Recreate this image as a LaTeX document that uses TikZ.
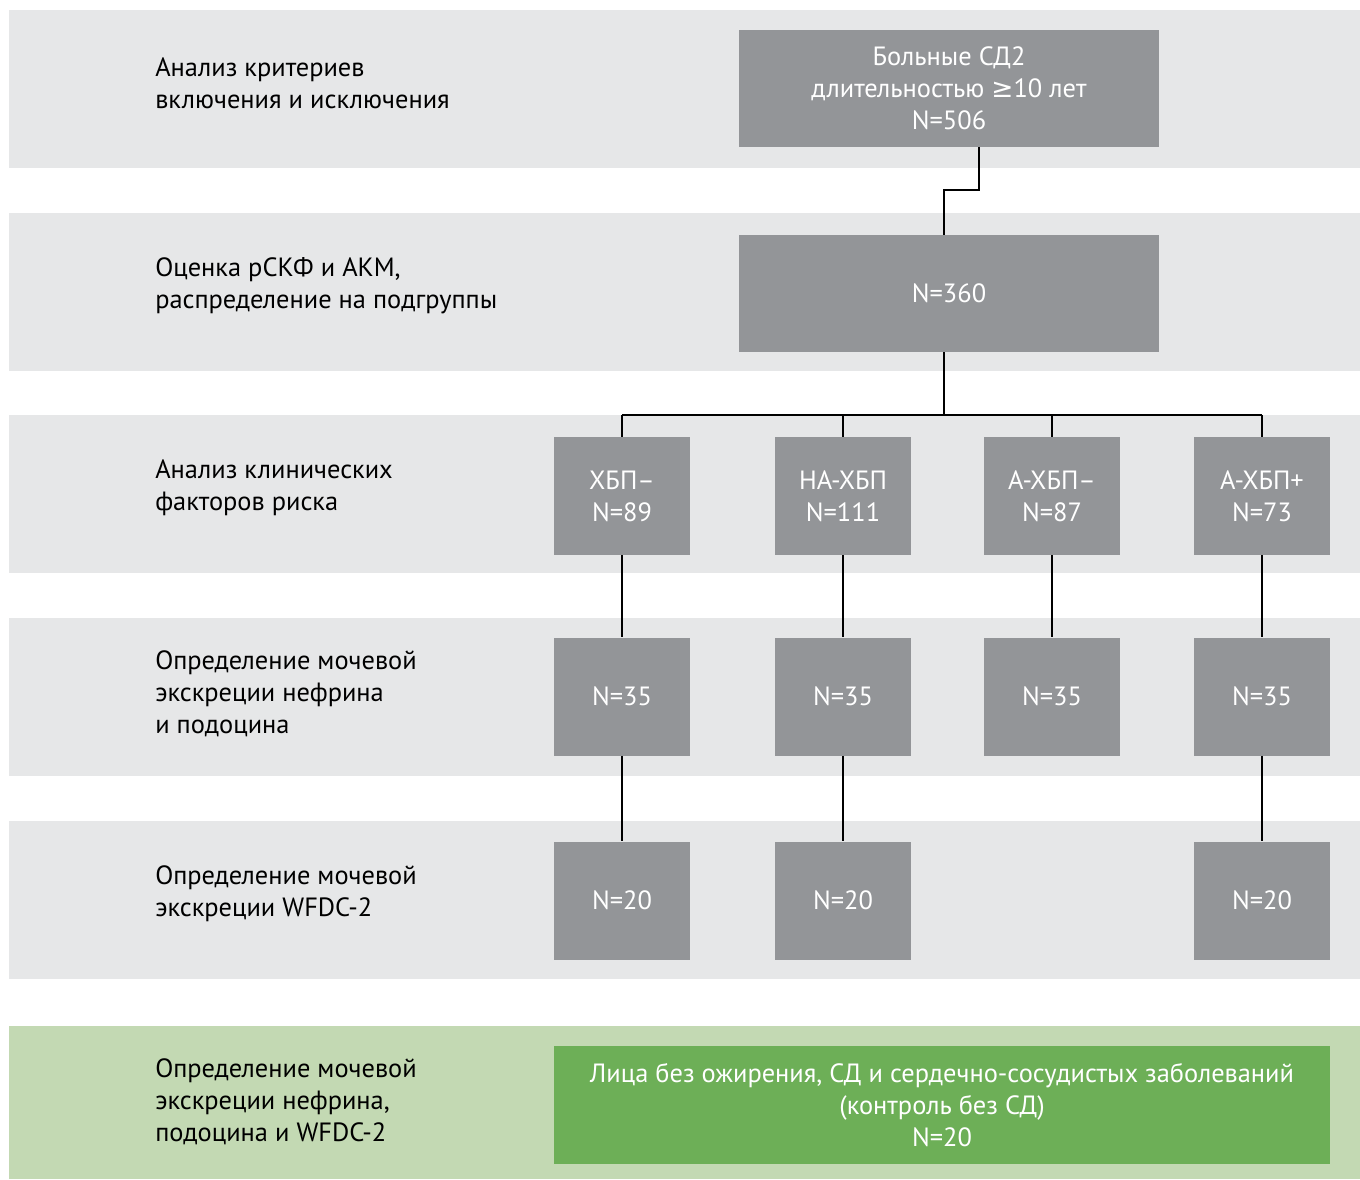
\documentclass[tikz,border=0pt]{standalone}
\usepackage{fontspec}
\setmainfont{PT Sans}
\newfontfamily\symfont{DejaVu Sans}
\definecolor{bandgray}{RGB}{230,231,232}
\definecolor{boxgray}{RGB}{147,149,152}
\definecolor{bandgreen}{RGB}{195,217,179}
\definecolor{boxgreen}{RGB}{109,175,87}
\begin{document}
\begin{tikzpicture}[x=0.75pt,y=-0.75pt,
  txt/.style={font=\fontsize{19.8}{24}\selectfont},
  label/.style={txt,anchor=west,align=left,inner sep=0pt,text=black},
  gbox/.style={txt,fill=boxgray,text=white,align=center,inner sep=0pt,minimum width=102pt,minimum height=88.5pt},
  wbox/.style={txt,fill=boxgray,text=white,align=center,inner sep=0pt,minimum width=315pt,minimum height=87.75pt},
  conn/.style={draw=black,line width=1.1pt}]
\useasboundingbox (0,0) rectangle (1360,1179);
% bands
\fill[bandgray] (9,10) rectangle (1360,168);
\fill[bandgray] (9,213) rectangle (1360,371);
\fill[bandgray] (9,415) rectangle (1360,573);
\fill[bandgray] (9,618) rectangle (1360,776);
\fill[bandgray] (9,821) rectangle (1360,979);
\fill[bandgreen] (9,1026) rectangle (1360,1179);
% labels
\node[label] (l1) at (155,83) {Анализ критериев\\включения и исключения};
\node[label] (l2) at (155,286) {Оценка рСКФ и АКМ,\\распределение на подгруппы};
\node[label] (l3) at (155,488) {Анализ клинических\\факторов риска};
\node[label] (l4) at (155,694) {Определение мочевой\\экскреции нефрина\\и подоцина};
\node[label] (l5) at (155,894) {Определение мочевой\\экскреции WFDC-2};
\node[label] (l6) at (155,1102) {Определение мочевой\\экскреции нефрина,\\подоцина и WFDC-2};
% boxes
\node[wbox] (top) at (949,88) {Больные СД2\\длительностью {\symfont ≥}10 лет\\N=506};
\node[wbox] (n360) at (949,293.5) {N=360};
\node[gbox] (a1) at (622,496) {ХБП–\\N=89};
\node[gbox] (a2) at (843,496) {НА-ХБП\\N=111};
\node[gbox] (a3) at (1052,496) {А-ХБП–\\N=87};
\node[gbox] (a4) at (1262,496) {А-ХБП+\\N=73};
\node[gbox] (b1) at (622,696.5) {N=35};
\node[gbox] (b2) at (843,696.5) {N=35};
\node[gbox] (b3) at (1052,696.5) {N=35};
\node[gbox] (b4) at (1262,696.5) {N=35};
\node[gbox] (c1) at (622,900.5) {N=20};
\node[gbox] (c2) at (843,900.5) {N=20};
\node[gbox] (c4) at (1262,900.5) {N=20};
\node[txt,fill=boxgreen,text=white,align=center,inner sep=0pt,minimum width=582pt,minimum height=88.5pt] (ctrl) at (942,1105) {Лица без ожирения, СД и сердечно-сосудистых заболеваний\\(контроль без СД)\\N=20};
% connectors
\coordinate (j1) at (979,190);
\coordinate (j2) at (944,190);
\coordinate (bus) at (944,415);
\draw[conn] (top.south -| j1) -- (j1) -- (j2) -- (j2 |- n360.north);
\draw[conn] (n360.south -| bus) -- (bus);
\draw[conn] (a1.north |- bus) -- (a4.north |- bus);
\draw[conn] (a1.north |- bus) -- (a1.north);
\draw[conn] (a2.north |- bus) -- (a2.north);
\draw[conn] (a3.north |- bus) -- (a3.north);
\draw[conn] (a4.north |- bus) -- (a4.north);
\draw[conn] (a1) -- (b1);
\draw[conn] (a2) -- (b2);
\draw[conn] (a3) -- (b3);
\draw[conn] (a4) -- (b4);
\draw[conn] (b1) -- (c1);
\draw[conn] (b2) -- (c2);
\draw[conn] (b4) -- (c4);
\end{tikzpicture}
\end{document}
